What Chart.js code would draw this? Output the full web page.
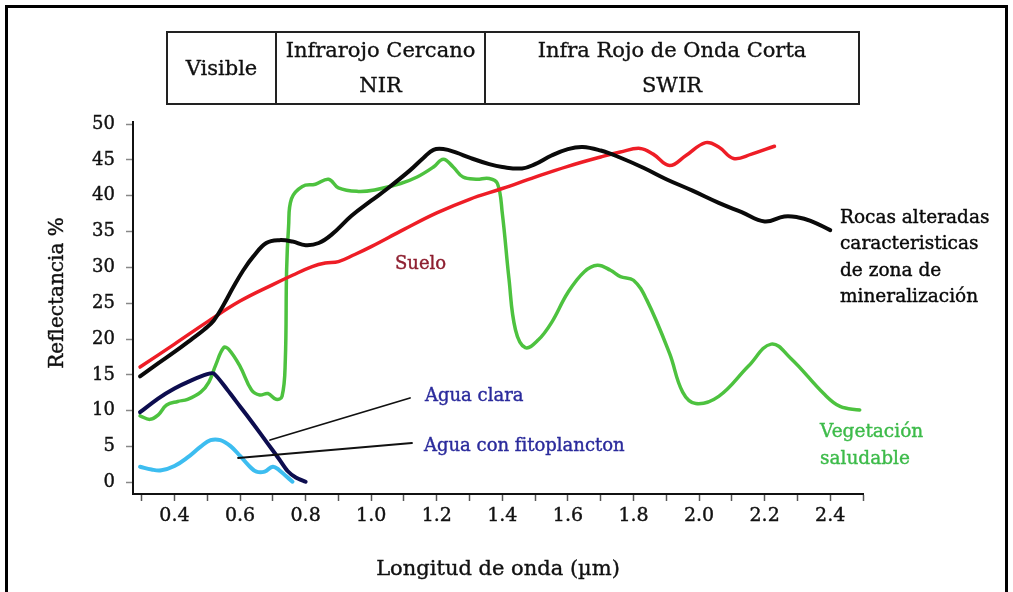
<!DOCTYPE html>
<html lang="es">
<head>
<meta charset="utf-8">
<title>Firmas espectrales</title>
<script src="https://cdn.jsdelivr.net/npm/chart.js@4.4.1/dist/chart.umd.min.js"></script>
<style>
  html, body { margin: 0; padding: 0; background: #fff; width: 1013px; height: 592px; overflow: hidden; }
  #frame { position: absolute; left: 5px; top: 5px; width: 1003px; height: 700px; border: 3px solid #000; box-sizing: border-box; pointer-events: none; }
  #c { position: absolute; left: 0; top: 0; }
  #bands { position: absolute; left: 166px; top: 31px; width: 692px; height: 71px; border-collapse: collapse; table-layout: fixed;
           font-family: 'DejaVu Serif', serif; font-size: 21px; color: #111; -webkit-text-stroke: 0.35px #111; }
  #bands td { border: 2px solid #222; text-align: center; vertical-align: middle; padding: 0; line-height: 35px; white-space: nowrap; }
</style>
</head>
<body>
<canvas id="c" width="1013" height="592"></canvas>
<table id="bands">
  <colgroup><col style="width:109px"><col style="width:209px"><col style="width:374px"></colgroup>
  <tr>
    <td>Visible</td>
    <td>Infrarojo Cercano<br>NIR</td>
    <td>Infra Rojo de Onda Corta<br>SWIR</td>
  </tr>
</table>
<div id="frame"></div>
<script>
// Longitud de onda (µm) y reflectancia (%) de cada firma espectral
const rocasWl  = [0.295, 0.35, 0.40, 0.45, 0.49, 0.52, 0.55, 0.58, 0.61, 0.64, 0.68, 0.72, 0.76, 0.80, 0.84, 0.88, 0.94, 1.00, 1.05, 1.12, 1.16, 1.19, 1.22, 1.26, 1.30, 1.36, 1.40, 1.46, 1.50, 1.55, 1.60, 1.645, 1.70, 1.755, 1.83, 1.90, 1.98, 2.06, 2.13, 2.20, 2.26, 2.30, 2.34, 2.40];
const rocasRef = [14.8, 16.6, 18.2, 19.9, 21.3, 22.6, 24.8, 27.3, 29.6, 31.5, 33.4, 33.8, 33.6, 33.1, 33.4, 34.6, 37.2, 39.3, 41.0, 43.6, 45.3, 46.4, 46.5, 46.0, 45.3, 44.4, 44.0, 43.8, 44.4, 45.6, 46.5, 46.8, 46.3, 45.4, 43.9, 42.3, 40.7, 39.0, 37.7, 36.4, 37.1, 37.0, 36.5, 35.2];

const sueloWl  = [0.295, 0.40, 0.50, 0.60, 0.70, 0.76, 0.82, 0.86, 0.90, 0.95, 1.00, 1.10, 1.20, 1.30, 1.40, 1.50, 1.60, 1.70, 1.76, 1.82, 1.86, 1.91, 1.96, 2.02, 2.06, 2.105, 2.16, 2.23];
const sueloRef = [16.1, 19.3, 22.4, 25.3, 27.6, 28.9, 30.1, 30.6, 30.8, 31.8, 32.9, 35.3, 37.6, 39.5, 41.0, 42.6, 44.1, 45.4, 46.1, 46.6, 45.8, 44.2, 45.6, 47.4, 46.8, 45.2, 45.8, 46.9];

const vegWl  = [0.295, 0.325, 0.35, 0.376, 0.41, 0.44, 0.48, 0.505, 0.525, 0.55, 0.565, 0.60, 0.635, 0.66, 0.685, 0.71, 0.728, 0.738, 0.742, 0.748, 0.757, 0.79, 0.83, 0.87, 0.90, 0.96, 1.01, 1.09, 1.14, 1.19, 1.22, 1.25, 1.28, 1.32, 1.36, 1.385, 1.40, 1.42, 1.44, 1.47, 1.51, 1.55, 1.60, 1.65, 1.69, 1.73, 1.76, 1.80, 1.84, 1.91, 1.95, 1.99, 2.06, 2.15, 2.22, 2.28, 2.38, 2.43, 2.49];
const vegRef = [9.3, 8.8, 9.4, 10.8, 11.3, 11.6, 12.6, 14.0, 16.3, 18.8, 18.6, 16.2, 12.9, 12.2, 12.4, 11.6, 12.0, 17.0, 29.6, 35.7, 39.6, 41.3, 41.6, 42.3, 41.1, 40.6, 40.8, 41.7, 42.6, 44.0, 45.1, 44.0, 42.6, 42.3, 42.4, 41.7, 37.5, 28.5, 21.3, 18.8, 19.9, 22.3, 26.5, 29.4, 30.3, 29.6, 28.7, 28.2, 25.5, 18.0, 12.6, 11.0, 12.0, 16.2, 19.3, 17.3, 12.4, 10.6, 10.1];

const aguaClaraWl  = [0.295, 0.35, 0.40, 0.45, 0.50, 0.52, 0.56, 0.60, 0.64, 0.68, 0.72, 0.745, 0.77, 0.80];
const aguaClaraRef = [9.8, 11.7, 13.1, 14.2, 15.1, 15.2, 13.0, 10.6, 8.2, 5.7, 3.2, 1.6, 0.7, 0.1];

const fitoWl  = [0.295, 0.33, 0.36, 0.40, 0.44, 0.48, 0.51, 0.54, 0.57, 0.60, 0.63, 0.65, 0.675, 0.70, 0.72, 0.74, 0.76];
const fitoRef = [2.2, 1.8, 1.7, 2.3, 3.5, 5.0, 5.9, 5.9, 5.1, 3.7, 2.2, 1.5, 1.5, 2.2, 1.7, 0.9, 0.1];

// Marcas de los ejes
const xTickValues = [0.3, 0.4, 0.5, 0.6, 0.7, 0.8, 0.9, 1.0, 1.1, 1.2, 1.3, 1.4, 1.5, 1.6, 1.7, 1.8, 1.9, 2.0, 2.1, 2.2, 2.3, 2.4, 2.5];
const xTickLabels = ['', '0.4', '', '0.6', '', '0.8', '', '1.0', '', '1.2', '', '1.4', '', '1.6', '', '1.8', '', '2.0', '', '2.2', '', '2.4', ''];
const yTickValues = [0, 5, 10, 15, 20, 25, 30, 35, 40, 45, 50];

const SERIF = "'DejaVu Serif', serif";

function points(xs, ys) { return xs.map((x, i) => ({ x: x, y: ys[i] })); }

function series(label, xs, ys, color, width, tension) {
  return {
    label: label,
    data: points(xs, ys),
    showLine: true,
    borderColor: color,
    borderWidth: width,
    pointRadius: 0,
    tension: tension,
    borderCapStyle: 'round',
    borderJoinStyle: 'round',
    fill: false
  };
}

// Rótulos, líneas guía y títulos de los ejes
const notes = [
  { lines: ['Suelo'], x: 395, y: 264, color: '#8e1f30', size: 18 },
  { lines: ['Agua clara'], x: 425, y: 396, color: '#2b2b9c', size: 18 },
  { lines: ['Agua con fitoplancton'], x: 424, y: 446, color: '#2b2b9c', size: 18 },
  { lines: ['Rocas alteradas', 'caracteristicas', 'de zona de', 'mineralización'], x: 840, y: 218, step: 26.5, color: '#0a0a0a', size: 18.5 },
  { lines: ['Vegetación', 'saludable'], x: 820, y: 432, step: 27, color: '#3dbb4a', size: 18.5 }
];
const leaders = [
  { from: [410, 398], to: [270, 440] },
  { from: [412, 443], to: [238, 458] }
];

const overlay = {
  id: 'overlay',
  afterDraw(chart) {
    const c = chart.ctx;
    c.save();
    c.strokeStyle = '#111';
    c.lineWidth = 1.8;
    c.lineCap = 'round';
    leaders.forEach(l => {
      c.beginPath();
      c.moveTo(l.from[0], l.from[1]);
      c.lineTo(l.to[0], l.to[1]);
      c.stroke();
    });
    c.textBaseline = 'middle';
    c.textAlign = 'left';
    c.lineWidth = 0.4;
    notes.forEach(n => {
      c.fillStyle = n.color;
      c.strokeStyle = n.color;
      c.font = n.size + 'px ' + SERIF;
      n.lines.forEach((t, i) => {
        const y = n.y + i * (n.step || 0);
        c.fillText(t, n.x, y);
        c.strokeText(t, n.x, y);
      });
    });
    // Títulos de los ejes
    const area = chart.chartArea;
    c.fillStyle = '#111';
    c.strokeStyle = '#111';
    c.font = '21px ' + SERIF;
    c.textAlign = 'center';
    const cx = (area.left + area.right) / 2;
    c.fillText('Longitud de onda (µm)', cx, 570);
    c.strokeText('Longitud de onda (µm)', cx, 570);
    c.translate(58, 293);
    c.rotate(-Math.PI / 2);
    c.font = '20px ' + SERIF;
    c.fillText('Reflectancia %', 0, 0);
    c.strokeText('Reflectancia %', 0, 0);
    c.restore();
  }
};

new Chart(document.getElementById('c'), {
  type: 'scatter',
  data: {
    datasets: [
      series('Agua con fitoplancton', fitoWl, fitoRef, '#3dbdf0', 4, 0.4),
      series('Agua clara', aguaClaraWl, aguaClaraRef, '#0d0d4f', 4, 0.25),
      series('Rocas alteradas', rocasWl, rocasRef, '#0a0a0a', 4, 0.4),
      series('Suelo', sueloWl, sueloRef, '#ee1d26', 3.5, 0.4),
      series('Vegetación saludable', vegWl, vegRef, '#4dc23f', 3.5, 0.4)
    ]
  },
  options: {
    responsive: false,
    animation: false,
    events: [],
    layout: { padding: { left: 0, top: 122, right: 150, bottom: 38 } },
    plugins: { legend: { display: false }, tooltip: { enabled: false } },
    scales: {
      x: {
        type: 'linear',
        min: 0.2735,
        max: 2.5,
        afterBuildTicks: s => { s.ticks = xTickValues.map(v => ({ value: v })); },
        afterFit: s => { s.height = 60; },
        border: { display: true, color: '#111', width: 2 },
        grid: { display: true, drawOnChartArea: false, drawTicks: true, tickLength: 7, tickColor: '#555', tickWidth: 1.5 },
        ticks: {
          autoSkip: false, maxRotation: 0, padding: 4, color: '#111',
          textStrokeColor: '#111', textStrokeWidth: 0.4,
          font: { family: SERIF, size: 19 },
          callback: (v, i) => xTickLabels[i]
        }
      },
      y: {
        type: 'linear',
        min: -1.61,
        max: 50.28,
        afterBuildTicks: s => { s.ticks = yTickValues.map(v => ({ value: v })); },
        afterFit: s => { s.width = 133; },
        border: { display: true, color: '#111', width: 2 },
        grid: { display: true, drawOnChartArea: false, drawTicks: true, tickLength: 7, tickColor: '#888', tickWidth: 1.5 },
        ticks: {
          padding: 11, color: '#111',
          textStrokeColor: '#111', textStrokeWidth: 0.4,
          font: { family: SERIF, size: 18 },
          callback: v => String(v)
        }
      }
    }
  },
  plugins: [overlay]
});
</script>
</body>
</html>
